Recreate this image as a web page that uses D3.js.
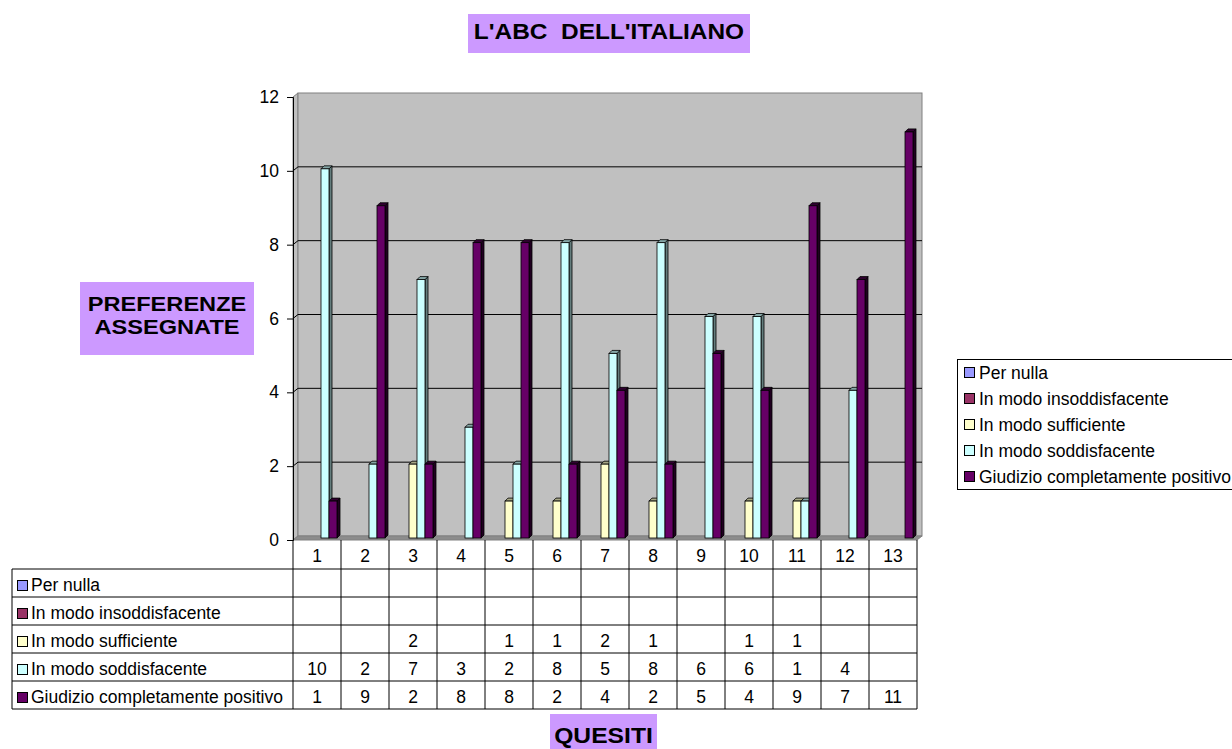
<!DOCTYPE html>
<html><head><meta charset="utf-8">
<script src="https://cdn.jsdelivr.net/npm/d3@7"></script>
<style>body{margin:0;background:#fff}svg{display:block;font-family:Arial,"Liberation Sans",sans-serif}</style>
</head><body>
<svg id="c" width="1232" height="749"></svg>
<script>
const categories = ["1","2","3","4","5","6","7","8","9","10","11","12","13"];
const seriesNames = ["Per nulla","In modo insoddisfacente","In modo sufficiente","In modo soddisfacente","Giudizio completamente positivo"];
const seriesColors = ["#9999FF","#993366","#FFFFCC","#CCFFFF","#660066"];
const perNulla = [null,null,null,null,null,null,null,null,null,null,null,null,null];
const insoddisfacente = [null,null,null,null,null,null,null,null,null,null,null,null,null];
const sufficiente = [null,null,2,null,1,1,2,1,null,1,1,null,null];
const soddisfacente = [10,2,7,3,2,8,5,8,6,6,1,4,null];
const giudizio = [1,9,2,8,8,2,4,2,5,4,9,7,11];
const yTicks = [0,2,4,6,8,10,12];
const title = "L'ABC  DELL'ITALIANO";
const yTitle = ["PREFERENZE","ASSEGNATE"];
const xTitle = "QUESITI";

const data = [perNulla, insoddisfacente, sufficiente, soddisfacente, giudizio];
const svg = d3.select("#c");
const x0 = 293, x1 = 917, yTop = 97, yBot = 540;
const DX = 5, DY = -4;
const FS = 17.5;
const x = d3.scaleBand().domain(categories).range([x0, x1]);
const xs = d3.scaleBand().domain(d3.range(5)).range([4, 44]);
const y = d3.scaleLinear().domain([0, 12]).range([yBot, yTop]);

// side wall
svg.append("polygon").attr("points", `${x0},${yBot} ${x0},${yTop} ${x0+DX},${yTop+DY} ${x0+DX},${yBot+DY}`)
  .attr("fill", "#C0C0C0").attr("stroke", "#808080");
// back wall
svg.append("rect").attr("x", x0+DX).attr("y", y(12)+DY).attr("width", x1-x0).attr("height", y(0)-y(12))
  .attr("fill", "#C0C0C0").attr("stroke", "#808080");
// floor
svg.append("polygon").attr("points", `${x0},${yBot} ${x1},${yBot} ${x1+DX},${yBot+DY} ${x0+DX},${yBot+DY}`)
  .attr("fill", "#8c8c8c").attr("stroke", "#808080");
// gridlines
const g = svg.append("g");
yTicks.filter(t => t > 0 && t < 12).forEach(t => {
  g.append("line").attr("x1", x0+DX).attr("x2", x1+DX).attr("y1", y(t)+DY).attr("y2", y(t)+DY).attr("stroke", "#000");
  g.append("line").attr("x1", x0).attr("x2", x0+DX).attr("y1", y(t)).attr("y2", y(t)+DY).attr("stroke", "#000");
});
// y axis
const ya = svg.append("g").attr("transform", `translate(${x0},0)`)
  .call(d3.axisLeft(y).tickValues(yTicks).tickSize(6).tickPadding(8));
ya.select(".domain").attr("stroke", "#000");
ya.selectAll("line").attr("stroke", "#000");
ya.selectAll("text").attr("font-size", FS).attr("font-family", "Arial,'Liberation Sans',sans-serif").attr("fill", "#000");

// bars
const bd = 3, bw = 8;
const bars = svg.append("g");
categories.forEach((c, ci) => {
  data.forEach((arr, si) => {
    const v = arr[ci];
    if (v == null || v === 0) return;
    const bx = x(c) + xs(si), by = y(v) - 2, bb = y(0) - 2;
    const col = d3.color(seriesColors[si]);
    const dark = si === 4 ? "#200020" : col.darker(2).formatHex();
    const mid = si === 4 ? "#300030" : col.darker(1.2).formatHex();
    bars.append("polygon").attr("points", `${bx+bw},${bb} ${bx+bw},${by} ${bx+bw+bd},${by-bd} ${bx+bw+bd},${bb-bd}`)
      .attr("fill", dark).attr("stroke", "#000").attr("stroke-width", 0.8);
    bars.append("polygon").attr("points", `${bx},${by} ${bx+bw},${by} ${bx+bw+bd},${by-bd} ${bx+bd},${by-bd}`)
      .attr("fill", mid).attr("stroke", "#000").attr("stroke-width", 0.8);
    bars.append("rect").attr("x", bx).attr("y", by).attr("width", bw).attr("height", bb - by)
      .attr("fill", seriesColors[si]).attr("stroke", "#000").attr("stroke-width", 0.8);
  });
});

// data table
const rowH = 28, hdrTop = 540, hdrBot = 569, tblLeft = 12;
const tbl = svg.append("g").attr("font-size", FS).attr("fill", "#000");
const lineCol = "#000";
categories.forEach(c => {
  tbl.append("text").attr("x", x(c) + x.bandwidth()/2).attr("y", hdrBot - 7).attr("text-anchor", "middle").text(c);
});
const tblBot = hdrBot + rowH * 5;
tbl.append("line").attr("x1", x0).attr("x2", x0).attr("y1", hdrTop).attr("y2", tblBot).attr("stroke", lineCol);
categories.forEach(c => {
  tbl.append("line").attr("x1", x(c)+x.bandwidth()).attr("x2", x(c)+x.bandwidth()).attr("y1", hdrTop).attr("y2", tblBot).attr("stroke", lineCol);
});
for (let r = 0; r <= 5; r++) {
  tbl.append("line").attr("x1", tblLeft).attr("x2", x1).attr("y1", hdrBot + r*rowH).attr("y2", hdrBot + r*rowH).attr("stroke", lineCol);
}
tbl.append("line").attr("x1", tblLeft).attr("x2", tblLeft).attr("y1", hdrBot).attr("y2", tblBot).attr("stroke", lineCol);
seriesNames.forEach((n, si) => {
  const ry = hdrBot + si*rowH;
  tbl.append("rect").attr("x", 17.5).attr("y", ry + rowH - 16.5).attr("width", 10).attr("height", 10)
    .attr("fill", seriesColors[si]).attr("stroke", "#000");
  tbl.append("text").attr("x", 31).attr("y", ry + rowH - 6).text(n);
  data[si].forEach((v, ci) => {
    if (v == null) return;
    tbl.append("text").attr("x", x(categories[ci]) + x.bandwidth()/2).attr("y", ry + rowH - 6).attr("text-anchor", "middle").text(v);
  });
});

// legend
const lg = svg.append("g").attr("font-size", FS);
lg.append("rect").attr("x", 957.5).attr("y", 359.5).attr("width", 290).attr("height", 130).attr("fill", "#fff").attr("stroke", "#000");
seriesNames.forEach((n, si) => {
  const cy = 373 + si * 26;
  lg.append("rect").attr("x", 964.5).attr("y", cy - 5.5).attr("width", 10).attr("height", 10).attr("fill", seriesColors[si]).attr("stroke", "#000");
  lg.append("text").attr("x", 979).attr("y", cy + 6).text(n);
});

// titles
const lab = svg.append("g").attr("font-weight", "bold").attr("fill", "#000");
function stretched(txt, cx, by, fs, factor) {
  const t = lab.append("text").attr("x", cx).attr("y", by).attr("text-anchor", "middle")
    .attr("font-size", fs).style("white-space", "pre").text(txt);
  const w = t.node().getComputedTextLength();
  t.attr("textLength", w * factor).attr("lengthAdjust", "spacingAndGlyphs");
  return t;
}
lab.append("rect").attr("x", 468).attr("y", 14).attr("width", 282).attr("height", 39).attr("fill", "#CC99FF");
stretched(title, 609, 39, 22, 1.11);
lab.append("rect").attr("x", 80).attr("y", 282).attr("width", 174).attr("height", 73).attr("fill", "#CC99FF");
yTitle.forEach((t, i) => stretched(t, 167, 311 + i*23, 20, 1.18));
lab.append("rect").attr("x", 550).attr("y", 714).attr("width", 107).attr("height", 36).attr("fill", "#CC99FF");
stretched(xTitle, 603.5, 743, 22, 1.12);
</script>
</body></html>
